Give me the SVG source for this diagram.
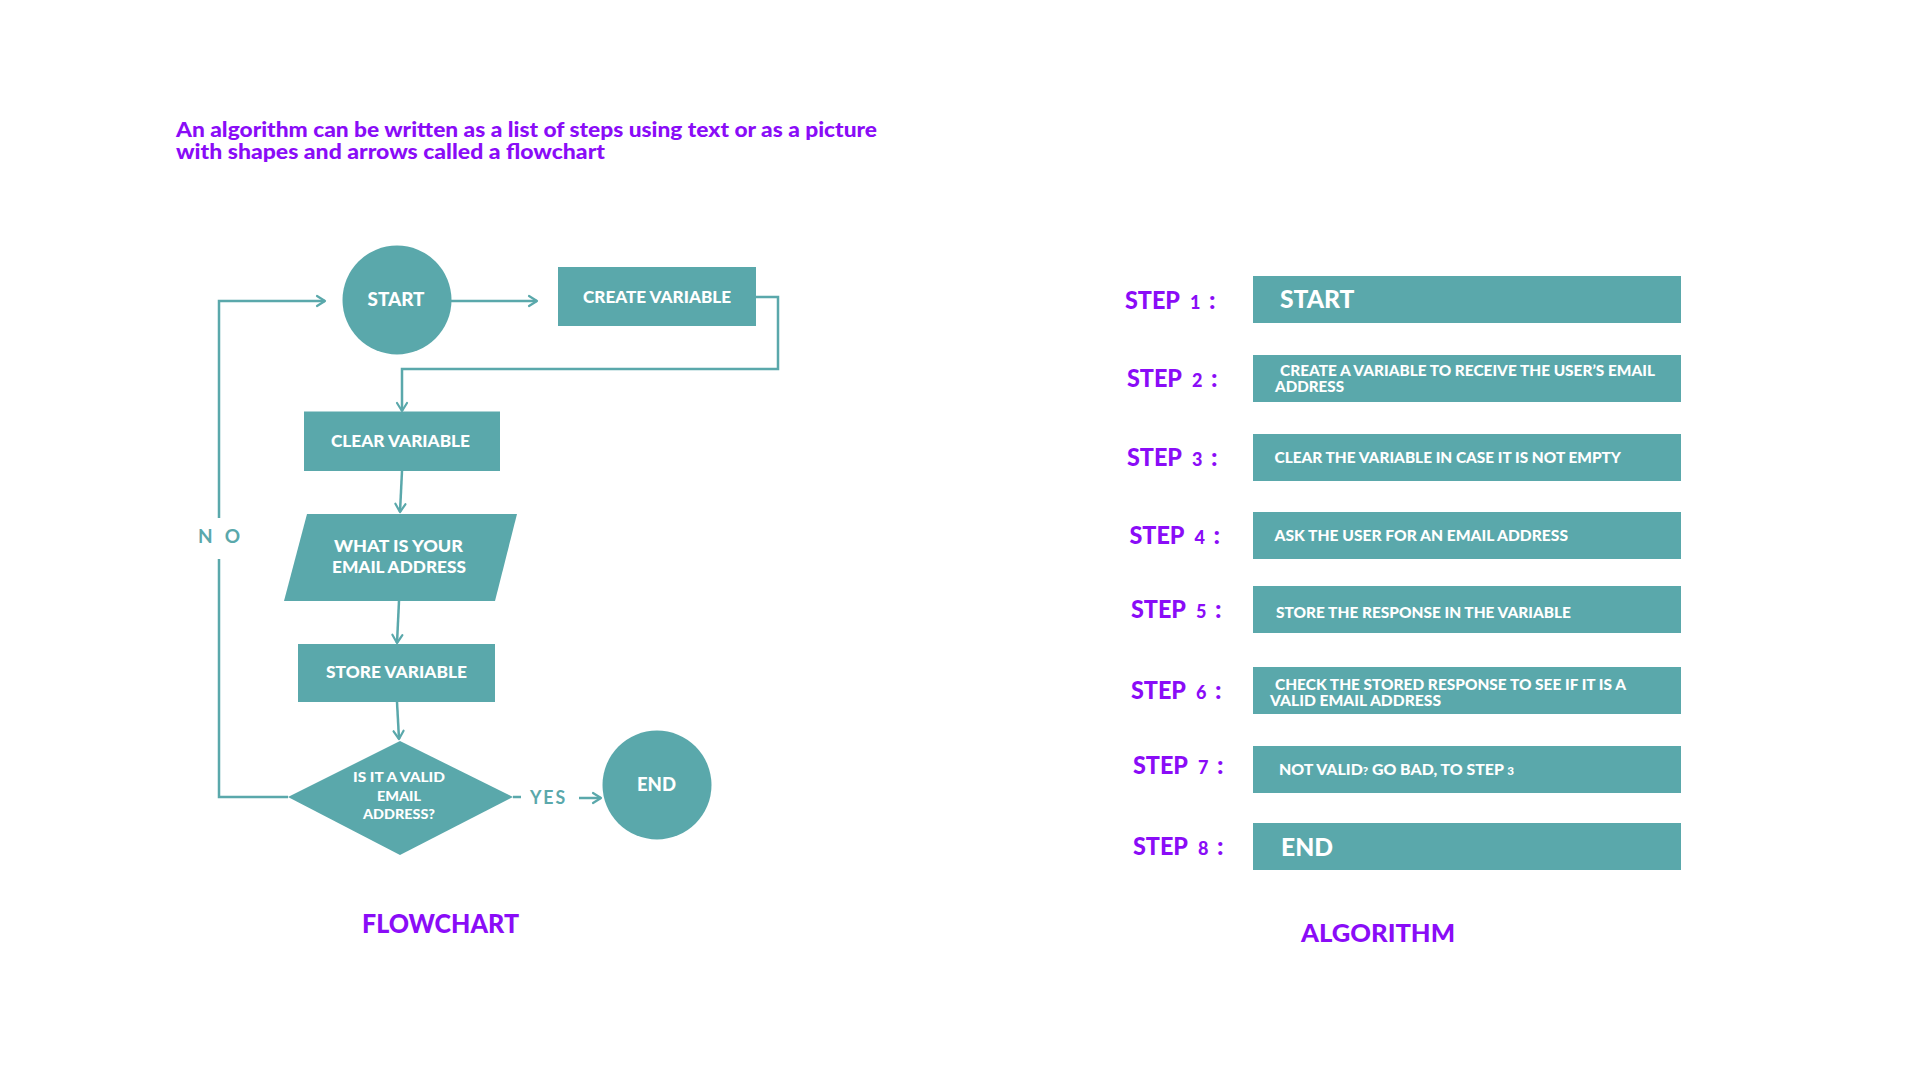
<svg xmlns="http://www.w3.org/2000/svg" width="1920" height="1080" viewBox="0 0 1920 1080">
<defs>
<marker id="arr" markerUnits="userSpaceOnUse" markerWidth="14" markerHeight="14" refX="10" refY="6" orient="auto" viewBox="0 0 14 12">
<path d="M2,1 L10,6 L2,11" fill="none" stroke="#5aa8ab" stroke-width="2.2" stroke-linecap="round" stroke-linejoin="round"/>
</marker>
</defs>
<style>
text{font-family:Lato,"Liberation Sans",sans-serif;font-weight:900}
.purple{fill:#8a0cf7}
.node{fill:#5aa8ab}
.nt{fill:#ffffff;font-size:17px;text-anchor:middle}
.st{fill:#ffffff;font-size:15px}
.lbl{fill:#5aa8ab;font-size:19px;font-weight:bold}
.con{fill:none;stroke:#5aa8ab;stroke-width:2.5}
.sl{fill:#8a0cf7;font-size:25px}
.sd{fill:#8a0cf7;font-size:18px}
</style>
<rect width="1920" height="1080" fill="#ffffff"/>

<g id="title">
<text class="purple" x="176" y="137" style="font-size:21px" textLength="701" lengthAdjust="spacingAndGlyphs">An algorithm can be written as a list of steps using text or as a picture</text>
<text class="purple" x="176" y="159" style="font-size:21px" textLength="429" lengthAdjust="spacingAndGlyphs">with shapes and arrows called a flowchart</text>
</g>

<g id="connectors">
<path class="con" d="M288,797 H219 V559"/>
<path class="con" d="M219,518 V301 H325" marker-end="url(#arr)"/>
<path class="con" d="M451,301 H537" marker-end="url(#arr)"/>
<path class="con" d="M756,297 H778 V369 H402 V411" marker-end="url(#arr)"/>
<path class="con" d="M402,471 L400,512" marker-end="url(#arr)"/>
<path class="con" d="M399,601 L397,643" marker-end="url(#arr)"/>
<path class="con" d="M397,702 L399,739" marker-end="url(#arr)"/>
<path class="con" d="M513,797 H521"/>
<path class="con" d="M579,798 H601" marker-end="url(#arr)"/>
<text class="lbl" x="198" y="543" textLength="42" lengthAdjust="spacing">N O</text>
<text class="lbl" x="530" y="804" textLength="37" lengthAdjust="spacingAndGlyphs" letter-spacing="2">YES</text>
</g>

<g id="node-start">
<circle class="node" cx="397" cy="300" r="54.5"/>
<text class="nt" x="396" y="306" style="font-size:19px" textLength="57" lengthAdjust="spacingAndGlyphs">START</text>
</g>
<g id="node-create">
<rect class="node" x="558" y="267" width="198" height="59"/>
<text class="nt" x="657" y="302.5" textLength="148" lengthAdjust="spacingAndGlyphs">CREATE VARIABLE</text>
</g>
<g id="node-clear">
<rect class="node" x="304" y="411.5" width="196" height="59.5"/>
<text class="nt" x="400.5" y="446.5" textLength="139" lengthAdjust="spacingAndGlyphs">CLEAR VARIABLE</text>
</g>
<g id="node-input">
<polygon class="node" points="307,514 517,514 495,601 284,601"/>
<text class="nt" x="398.5" y="552" textLength="129" lengthAdjust="spacingAndGlyphs">WHAT IS YOUR</text>
<text class="nt" x="399" y="573" textLength="134" lengthAdjust="spacingAndGlyphs">EMAIL ADDRESS</text>
</g>
<g id="node-store">
<rect class="node" x="298" y="644" width="197" height="58"/>
<text class="nt" x="396.5" y="678" textLength="141" lengthAdjust="spacingAndGlyphs">STORE VARIABLE</text>
</g>
<g id="node-decision">
<polygon class="node" points="400,741 513,797 400,855 288,797"/>
<text class="nt" x="399" y="782" style="font-size:14px" textLength="92" lengthAdjust="spacingAndGlyphs">IS IT A VALID</text>
<text class="nt" x="399" y="801" style="font-size:14px" textLength="44" lengthAdjust="spacingAndGlyphs">EMAIL</text>
<text class="nt" x="399" y="819" style="font-size:14px" textLength="72" lengthAdjust="spacingAndGlyphs">ADDRESS?</text>
</g>
<g id="node-end">
<circle class="node" cx="657" cy="785" r="54.5"/>
<text class="nt" x="656.5" y="791" style="font-size:18px" textLength="39" lengthAdjust="spacingAndGlyphs">END</text>
</g>

<text id="flowchart-label" class="purple" x="362" y="933" style="font-size:27px" textLength="157" lengthAdjust="spacingAndGlyphs">FLOWCHART</text>

<g id="steps">
<g id="step1">
<text class="sl" x="1125" y="309" textLength="55" lengthAdjust="spacingAndGlyphs">STEP</text>
<text class="sd" x="1190" y="309">1</text>
<text class="sl" x="1209" y="309">:</text>
<rect class="node" x="1253" y="276" width="428" height="47"/>
<text class="st" x="1280" y="307.5" style="font-size:25px" textLength="74.5" lengthAdjust="spacingAndGlyphs">START</text>
</g>
<g id="step2">
<text class="sl" x="1127" y="387" textLength="55" lengthAdjust="spacingAndGlyphs">STEP</text>
<text class="sd" x="1192" y="387">2</text>
<text class="sl" x="1211" y="387">:</text>
<rect class="node" x="1253" y="355" width="428" height="47"/>
<text class="st" x="1280" y="375.5" textLength="375" lengthAdjust="spacingAndGlyphs">CREATE A VARIABLE TO RECEIVE THE USER’S EMAIL</text>
<text class="st" x="1275" y="391.5" textLength="69" lengthAdjust="spacingAndGlyphs">ADDRESS</text>
</g>
<g id="step3">
<text class="sl" x="1127" y="465.5" textLength="55" lengthAdjust="spacingAndGlyphs">STEP</text>
<text class="sd" x="1192" y="465.5">3</text>
<text class="sl" x="1211" y="465.5">:</text>
<rect class="node" x="1253" y="434" width="428" height="47"/>
<text class="st" x="1274.5" y="463" textLength="346.5" lengthAdjust="spacingAndGlyphs">CLEAR THE VARIABLE IN CASE IT IS NOT EMPTY</text>
</g>
<g id="step4">
<text class="sl" x="1129.5" y="543.5" textLength="55" lengthAdjust="spacingAndGlyphs">STEP</text>
<text class="sd" x="1194.5" y="543.5">4</text>
<text class="sl" x="1213.5" y="543.5">:</text>
<rect class="node" x="1253" y="512" width="428" height="47"/>
<text class="st" x="1274.5" y="540.5" textLength="293.5" lengthAdjust="spacingAndGlyphs">ASK THE USER FOR AN EMAIL ADDRESS</text>
</g>
<g id="step5">
<text class="sl" x="1131" y="618" textLength="55" lengthAdjust="spacingAndGlyphs">STEP</text>
<text class="sd" x="1196" y="618">5</text>
<text class="sl" x="1215" y="618">:</text>
<rect class="node" x="1253" y="586" width="428" height="47"/>
<text class="st" x="1276" y="617.5" textLength="295" lengthAdjust="spacingAndGlyphs">STORE THE RESPONSE IN THE VARIABLE</text>
</g>
<g id="step6">
<text class="sl" x="1131" y="699" textLength="55" lengthAdjust="spacingAndGlyphs">STEP</text>
<text class="sd" x="1196" y="699">6</text>
<text class="sl" x="1215" y="699">:</text>
<rect class="node" x="1253" y="667" width="428" height="47"/>
<text class="st" x="1275" y="690" textLength="351" lengthAdjust="spacingAndGlyphs">CHECK THE STORED RESPONSE TO SEE IF IT IS A</text>
<text class="st" x="1270" y="706" textLength="171" lengthAdjust="spacingAndGlyphs">VALID EMAIL ADDRESS</text>
</g>
<g id="step7">
<text class="sl" x="1133" y="774" textLength="55" lengthAdjust="spacingAndGlyphs">STEP</text>
<text class="sd" x="1198" y="774">7</text>
<text class="sl" x="1217" y="774">:</text>
<rect class="node" x="1253" y="746" width="428" height="47"/>
<text class="st" x="1279" y="774.5" textLength="235" lengthAdjust="spacingAndGlyphs">NOT VALID<tspan style="font-size:11px">?</tspan> GO BAD, TO STEP <tspan style="font-size:11px">3</tspan></text>
</g>
<g id="step8">
<text class="sl" x="1133" y="855" textLength="55" lengthAdjust="spacingAndGlyphs">STEP</text>
<text class="sd" x="1198" y="855">8</text>
<text class="sl" x="1217" y="855">:</text>
<rect class="node" x="1253" y="823" width="428" height="47"/>
<text class="st" x="1281" y="856" style="font-size:25px" textLength="52" lengthAdjust="spacingAndGlyphs">END</text>
</g>
</g>

<text id="algorithm-label" class="purple" x="1301" y="941.5" style="font-size:25px" textLength="154" lengthAdjust="spacingAndGlyphs">ALGORITHM</text>
</svg>
